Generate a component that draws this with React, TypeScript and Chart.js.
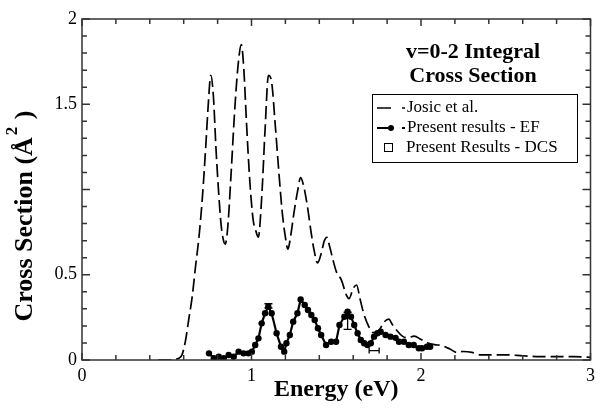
import { useEffect, useRef } from 'react';
import { Chart, registerables } from 'chart.js';

Chart.register(...registerables);

// Josic et al. (dashed curve)
const josicEnergy = [0.45,0.53,0.57,0.59,0.61,0.63,0.65,0.67,0.69,0.71,0.73,0.745,0.76,0.775,0.79,0.805,0.82,0.835,0.845,0.86,0.88,0.90,0.92,0.94,0.955,0.97,0.99,1.01,1.025,1.04,1.06,1.08,1.10,1.12,1.14,1.16,1.18,1.20,1.215,1.23,1.25,1.27,1.29,1.31,1.33,1.35,1.37,1.39,1.41,1.43,1.445,1.46,1.48,1.50,1.53,1.56,1.575,1.60,1.62,1.64,1.66,1.69,1.72,1.75,1.78,1.81,1.83,1.86,1.89,1.92,1.96,2.00,2.04,2.08,2.12,2.17,2.21,2.25,2.30,2.35,2.40,2.50,2.60,2.70,2.80,2.90,3.00];
const josicCS = [0,0,0.01,0.03,0.11,0.24,0.37,0.55,0.72,0.95,1.25,1.50,1.67,1.55,1.25,1.00,0.80,0.70,0.68,0.78,1.10,1.45,1.72,1.85,1.70,1.40,1.05,0.82,0.76,0.72,0.95,1.35,1.67,1.62,1.38,1.12,0.88,0.72,0.65,0.72,0.86,0.98,1.07,1.01,0.90,0.76,0.64,0.57,0.62,0.70,0.72,0.67,0.59,0.52,0.47,0.38,0.36,0.42,0.44,0.36,0.28,0.20,0.16,0.17,0.22,0.24,0.21,0.17,0.14,0.13,0.14,0.12,0.10,0.09,0.085,0.065,0.045,0.05,0.045,0.03,0.03,0.03,0.025,0.02,0.02,0.02,0.015];

// Present results - EF (line + dots)
const efEnergy = [0.749,0.778,0.807,0.836,0.865,0.895,0.924,0.953,0.982,1.002,1.022,1.041,1.060,1.080,1.099,1.119,1.148,1.174,1.193,1.206,1.226,1.246,1.271,1.290,1.314,1.333,1.353,1.373,1.392,1.411,1.440,1.470,1.499,1.519,1.548,1.567,1.587,1.606,1.626,1.645,1.665,1.684,1.704,1.723,1.743,1.762,1.791,1.820,1.850,1.870,1.899,1.928,1.957,1.987,2.006,2.035,2.054];
const efCS = [0.039,0.010,0.019,0.010,0.029,0.019,0.049,0.039,0.039,0.049,0.088,0.127,0.215,0.274,0.313,0.274,0.157,0.078,0.049,0.098,0.147,0.225,0.274,0.355,0.323,0.293,0.264,0.235,0.186,0.147,0.088,0.107,0.107,0.205,0.254,0.283,0.254,0.205,0.157,0.117,0.098,0.088,0.098,0.137,0.157,0.166,0.147,0.137,0.13,0.107,0.107,0.088,0.088,0.069,0.069,0.078,0.078];

// Error bars
const vErrEnergy = [1.10, 1.567];
const vErrLow = [0.305, 0.18];
const vErrHigh = [0.33, 0.28];
const hErrCS = [0.055];
const hErrLow = [1.694];
const hErrHigh = [1.753];

// Axis tick labels
const xTickLabels = [0, 1, 2, 3];
const yTickLabels = [0, 0.5, 1.5, 2];

const titleLines = ['v=0-2 Integral', 'Cross Section'];
const legendLabels = ['Josic et al.', 'Present results - EF', 'Present Results - DCS'];

const SERIF = '"Liberation Serif", "Times New Roman", Times, serif';

const overlayPlugin = {
  id: 'overlay',
  afterDatasetsDraw(chart: any) {
    const { ctx, scales } = chart;
    const xs = scales.x;
    const ys = scales.y;
    ctx.save();
    ctx.strokeStyle = '#000';
    ctx.lineWidth = 1.3;
    for (let i = 0; i < vErrEnergy.length; i++) {
      const px = xs.getPixelForValue(vErrEnergy[i]);
      const p1 = ys.getPixelForValue(vErrLow[i]);
      const p2 = ys.getPixelForValue(vErrHigh[i]);
      ctx.beginPath();
      ctx.moveTo(px, p1); ctx.lineTo(px, p2);
      ctx.moveTo(px - 4, p1); ctx.lineTo(px + 4, p1);
      ctx.moveTo(px - 4, p2); ctx.lineTo(px + 4, p2);
      ctx.stroke();
    }
    for (let i = 0; i < hErrCS.length; i++) {
      const py = ys.getPixelForValue(hErrCS[i]);
      const p1 = xs.getPixelForValue(hErrLow[i]);
      const p2 = xs.getPixelForValue(hErrHigh[i]);
      ctx.beginPath();
      ctx.moveTo(p1, py); ctx.lineTo(p2, py);
      ctx.moveTo(p1, py - 3); ctx.lineTo(p1, py + 3);
      ctx.moveTo(p2, py - 3); ctx.lineTo(p2, py + 3);
      ctx.stroke();
    }
    ctx.restore();
  },
  afterDraw(chart: any) {
    const { ctx, chartArea: a, scales } = chart;
    const xs = scales.x;
    const ys = scales.y;
    ctx.save();
    // frame with inward ticks
    ctx.strokeStyle = '#333';
    ctx.lineWidth = 1.5;
    ctx.strokeRect(a.left, a.top, a.right - a.left, a.bottom - a.top);
    ctx.beginPath();
    for (let i = 0; i <= 15; i++) {
      const px = xs.getPixelForValue(i * 0.2);
      const len = i % 5 === 0 ? 7 : 5;
      ctx.moveTo(px, a.bottom); ctx.lineTo(px, a.bottom - len);
      ctx.moveTo(px, a.top); ctx.lineTo(px, a.top + len);
    }
    for (let i = 0; i <= 20; i++) {
      const py = ys.getPixelForValue(i * 0.1);
      const len = i % 5 === 0 ? 8 : 5;
      ctx.moveTo(a.left, py); ctx.lineTo(a.left + len, py);
      ctx.moveTo(a.right, py); ctx.lineTo(a.right - len, py);
    }
    ctx.stroke();

    ctx.fillStyle = '#000';
    // x title
    ctx.font = `bold 24px ${SERIF}`;
    ctx.textAlign = 'center';
    ctx.textBaseline = 'middle';
    ctx.fillText('Energy (eV)', (a.left + a.right) / 2, 390);

    // y title
    ctx.save();
    ctx.translate(25, 216);
    ctx.rotate(-Math.PI / 2);
    ctx.textAlign = 'left';
    ctx.textBaseline = 'middle';
    ctx.font = `bold 26px ${SERIF}`;
    const main = 'Cross Section (Å';
    const wMain = ctx.measureText(main).width;
    const wClose = ctx.measureText(')').width;
    const gap = 18;
    const total = wMain + gap + wClose;
    const sx = -total / 2;
    ctx.fillText(main, sx, 0);
    ctx.font = `bold 17px ${SERIF}`;
    ctx.fillText('2', sx + wMain + 2, -12);
    ctx.font = `bold 26px ${SERIF}`;
    ctx.fillText(')', sx + wMain + gap, 0);
    ctx.restore();

    // title inside plot
    ctx.font = `bold 22px ${SERIF}`;
    ctx.textAlign = 'center';
    ctx.textBaseline = 'middle';
    ctx.fillText(titleLines[0], 473, 52);
    ctx.fillText(titleLines[1], 473, 76);

    // legend box
    ctx.fillStyle = '#fff';
    ctx.fillRect(372, 94, 205, 68);
    ctx.strokeStyle = '#000';
    ctx.lineWidth = 1;
    ctx.strokeRect(372.5, 94.5, 205, 68);
    ctx.fillStyle = '#000';
    ctx.font = `17px ${SERIF}`;
    ctx.textAlign = 'left';
    ctx.textBaseline = 'middle';
    const rows = [108, 128, 148];
    ctx.lineWidth = 1.6;
    ctx.beginPath();
    ctx.moveTo(377, rows[0]); ctx.lineTo(391, rows[0]);
    ctx.moveTo(402, rows[0]); ctx.lineTo(405, rows[0]);
    ctx.stroke();
    ctx.fillText(legendLabels[0], 407, rows[0]);
    ctx.lineWidth = 2;
    ctx.beginPath();
    ctx.moveTo(377, rows[1]); ctx.lineTo(391, rows[1]);
    ctx.moveTo(402, rows[1]); ctx.lineTo(405, rows[1]);
    ctx.stroke();
    ctx.beginPath();
    ctx.arc(391, rows[1], 3, 0, Math.PI * 2);
    ctx.fill();
    ctx.fillText(legendLabels[1], 407, rows[1]);
    ctx.lineWidth = 1;
    ctx.strokeRect(384.5, rows[2] - 4.5, 8, 8);
    ctx.fillText(legendLabels[2], 406, rows[2]);
    ctx.restore();
  },
};

export default function App() {
  const ref = useRef<HTMLCanvasElement | null>(null);

  useEffect(() => {
    document.body.style.margin = '0';
    const canvas = ref.current;
    if (!canvas) return;
    const chart = new Chart(canvas, {
      type: 'scatter',
      data: {
        datasets: [
          {
            label: legendLabels[0],
            data: josicEnergy.map((x, i) => ({ x, y: josicCS[i] })),
            showLine: true,
            borderColor: '#000',
            borderWidth: 1.7,
            borderDash: [13, 5],
            pointRadius: 0,
            cubicInterpolationMode: 'monotone',
          },
          {
            label: legendLabels[1],
            data: efEnergy.map((x, i) => ({ x, y: efCS[i] })),
            showLine: true,
            borderColor: '#000',
            backgroundColor: '#000',
            borderWidth: 2.2,
            pointRadius: 3.2,
            pointBorderWidth: 0,
            pointBackgroundColor: '#000',
          },
        ],
      },
      options: {
        responsive: false,
        animation: false,
        layout: { padding: { top: 19, right: 6, left: 0, bottom: 0 } },
        plugins: { legend: { display: false }, tooltip: { enabled: false }, title: { display: false } },
        scales: {
          x: {
            type: 'linear',
            min: 0,
            max: 3,
            afterFit: (s: any) => { s.height = 49; },
            grid: { display: false, drawTicks: false },
            border: { display: false },
            ticks: {
              stepSize: 1,
              autoSkip: false,
              maxRotation: 0,
              color: '#000',
              padding: 5,
              font: { family: SERIF, size: 18 },
              callback: (v: any) => (xTickLabels.includes(Number(v)) ? String(v) : ''),
            },
          },
          y: {
            type: 'linear',
            min: 0,
            max: 2,
            afterFit: (s: any) => { s.width = 82; },
            grid: { display: false, drawTicks: false },
            border: { display: false },
            ticks: {
              stepSize: 0.5,
              autoSkip: false,
              color: '#000',
              padding: 5,
              font: { family: SERIF, size: 18 },
              callback: (v: any) => {
                const n = Math.round(Number(v) * 10) / 10;
                return yTickLabels.includes(n) ? String(n) : '';
              },
            },
          },
        },
      },
      plugins: [overlayPlugin],
    } as any);
    return () => chart.destroy();
  }, []);

  return (
    <div style={{ width: 600, height: 409 }}>
      <canvas ref={ref} width={600} height={409} style={{ display: 'block' }} />
    </div>
  );
}
